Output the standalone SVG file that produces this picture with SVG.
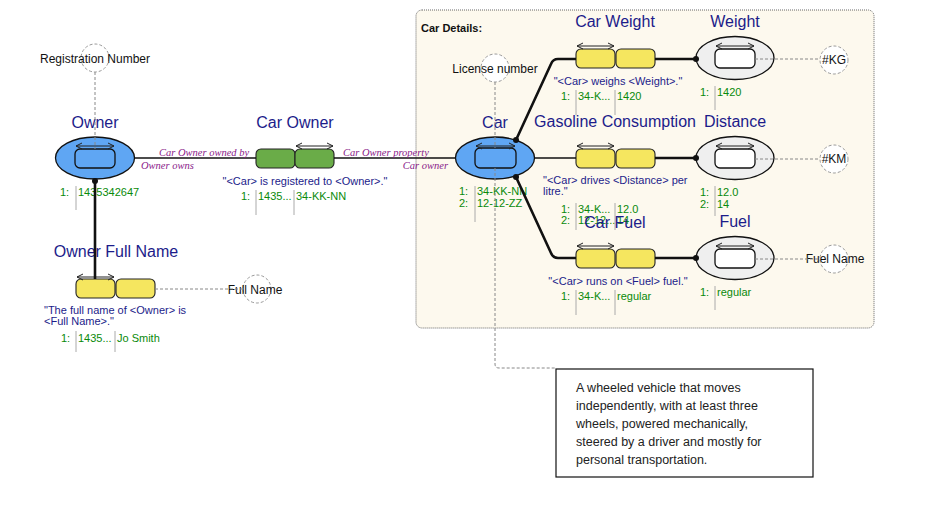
<svg xmlns="http://www.w3.org/2000/svg" width="925" height="509" viewBox="0 0 925 509">
<style>
text{font-family:"Liberation Sans",Arial,sans-serif}
.title{font-size:16px;fill:#1c1c8a;text-anchor:middle}
.lbl{font-size:12px;fill:#111}
.mid{text-anchor:middle}
.sent{font-size:11px;fill:#1c1c8a}
.val{font-size:11px;fill:#0a8a0a}
.role{font-size:10.5px;fill:#8a1a8a;font-style:italic;font-family:"Liberation Serif",serif}
.ent{fill:#5fa6f3;stroke:#111;stroke-width:1.3}
.inner{fill:#5fa6f3;stroke:#111;stroke-width:1.3}
.val-ent{fill:#efefef;stroke:#111;stroke-width:1.3}
.val-inner{fill:#fff;stroke:#111;stroke-width:1.3}
.yel{fill:#f5e65f;stroke:#222;stroke-width:1.1}
.grn{fill:#6aac48;stroke:#222;stroke-width:1.1}
.ref{fill:#fff;stroke:#999;stroke-dasharray:3,2;stroke-width:1}
.dash{stroke:#888;stroke-dasharray:3,2;stroke-width:1;fill:none}
.thin{stroke:#111;stroke-width:1.4;fill:none}
.thick{stroke:#111;stroke-width:2.6;fill:none}
.span{stroke:#222;stroke-width:1.2;marker-start:url(#ar);marker-end:url(#ar)}
.vl{stroke:#aaa;stroke-width:1}
.note{font-size:12.5px;fill:#222}
</style>
<defs>
<marker id="ar" viewBox="0 0 8 8" refX="7" refY="4" markerWidth="8" markerHeight="8" markerUnits="userSpaceOnUse" orient="auto-start-reverse">
<path d="M1,1 L7,4 L1,7" fill="none" stroke="#222" stroke-width="1"/>
</marker>
</defs>
<rect width="925" height="509" fill="#fff"/>

<g id="frame-car-details">
<rect x="416" y="10" width="458" height="318" rx="6" fill="#fdf9ee" stroke="#666" stroke-dasharray="1,1"/>
<text x="421" y="32" style="font-size:11px;font-weight:bold;fill:#111">Car Details:</text>
</g>

<g id="note">
<rect x="556" y="369" width="257" height="108" fill="#fff" stroke="#111" stroke-width="1.2"/>
<text class="note" x="576" y="392">A wheeled vehicle that moves</text>
<text class="note" x="576" y="410">independently, with at least three</text>
<text class="note" x="576" y="428">wheels, powered mechanically,</text>
<text class="note" x="576" y="446">steered by a driver and mostly for</text>
<text class="note" x="576" y="464">personal transportation.</text>
</g>

<g id="owner">
<text class="title" x="95" y="128">Owner</text>
<ellipse class="ent" cx="95" cy="158" rx="39.5" ry="21"/>
<rect class="inner" x="75" y="149" width="40" height="19" rx="5"/>
<line class="span" x1="76" y1="146" x2="114" y2="146"/>
<text class="val" x="60" y="196">1:</text>
<line class="vl" x1="76" y1="186" x2="76" y2="210"/>
<text class="val" x="78" y="196">1435342647</text>
</g>

<g id="registration-number">
<circle class="ref" cx="95" cy="58" r="14"/>
<text class="lbl mid" x="95" y="63">Registration Number</text>
</g>

<g id="car-owner">
<text class="title" x="295" y="128">Car Owner</text>
<rect class="grn" x="256" y="149" width="39" height="19" rx="5"/>
<rect class="grn" x="295" y="149" width="39" height="19" rx="5"/>
<line class="span" x1="296" y1="146" x2="333" y2="146"/>
<text class="sent mid" x="305" y="185">"&lt;Car&gt; is registered to &lt;Owner&gt;."</text>
<text class="val" x="241" y="200">1:</text>
<line class="vl" x1="256" y1="190" x2="256" y2="215"/>
<text class="val" x="258" y="200">1435...</text>
<line class="vl" x1="294" y1="190" x2="294" y2="215"/>
<text class="val" x="296" y="200">34-KK-NN</text>
</g>

<g id="owner-full-name">
<text class="title" x="116" y="257">Owner Full Name</text>
<rect class="yel" x="76" y="279" width="39" height="19" rx="5"/>
<rect class="yel" x="116" y="279" width="39" height="19" rx="5"/>
<line class="span" x1="77" y1="277" x2="114" y2="277"/>
<text class="sent" x="44" y="314">"The full name of &lt;Owner&gt; is</text>
<text class="sent" x="44" y="325">&lt;Full Name&gt;."</text>
<text class="val" x="61" y="342">1:</text>
<line class="vl" x1="76" y1="331" x2="76" y2="352"/>
<text class="val" x="78" y="342">1435...</text>
<line class="vl" x1="115" y1="331" x2="115" y2="352"/>
<text class="val" x="117" y="342">Jo Smith</text>
</g>

<g id="full-name">
<circle class="ref" cx="257" cy="289" r="14"/>
<text class="lbl mid" x="255" y="294">Full Name</text>
</g>

<g id="car">
<text class="title" x="495" y="128">Car</text>
<ellipse class="ent" cx="495" cy="158" rx="39.5" ry="21"/>
<rect class="inner" x="475" y="148" width="41" height="20" rx="5"/>
<line class="span" x1="476" y1="146" x2="515" y2="146"/>
<text class="val" x="459" y="195">1:</text>
<text class="val" x="459" y="207">2:</text>
<line class="vl" x1="475" y1="186" x2="475" y2="222"/>
<text class="val" x="477" y="195">34-KK-NN</text>
<text class="val" x="477" y="207">12-12-ZZ</text>
</g>

<g id="license-number">
<circle class="ref" cx="495" cy="68" r="14"/>
<text class="lbl mid" x="495" y="73">License number</text>
</g>

<g id="car-weight">
<text class="title" x="615" y="27">Car Weight</text>
<rect class="yel" x="576" y="49" width="39" height="19" rx="5"/>
<rect class="yel" x="616" y="49" width="39" height="19" rx="5"/>
<line class="span" x1="577" y1="46" x2="614" y2="46"/>
<text class="sent mid" x="618" y="85">"&lt;Car&gt; weighs &lt;Weight&gt;."</text>
<text class="val" x="561" y="100">1:</text>
<line class="vl" x1="576" y1="90" x2="576" y2="115"/>
<text class="val" x="578" y="100">34-K...</text>
<line class="vl" x1="615" y1="90" x2="615" y2="115"/>
<text class="val" x="617" y="100">1420</text>
</g>

<g id="weight">
<text class="title" x="735" y="27">Weight</text>
<ellipse class="val-ent" cx="735" cy="58" rx="39" ry="21.5"/>
<rect class="val-inner" x="715" y="49" width="40" height="19" rx="5"/>
<line class="span" x1="716" y1="46" x2="754" y2="46"/>
<text class="val" x="700" y="96">1:</text>
<line class="vl" x1="715" y1="86" x2="715" y2="110"/>
<text class="val" x="717" y="96">1420</text>
</g>

<g id="kg">
<circle class="ref" cx="834" cy="60" r="14"/>
<text class="lbl mid" x="834" y="64">#KG</text>
</g>

<g id="gasoline-consumption">
<text class="title" x="615" y="127">Gasoline Consumption</text>
<rect class="yel" x="576" y="149" width="39" height="19" rx="5"/>
<rect class="yel" x="616" y="149" width="39" height="19" rx="5"/>
<line class="span" x1="577" y1="146" x2="614" y2="146"/>
<text class="sent" x="543" y="184">"&lt;Car&gt; drives &lt;Distance&gt; per</text>
<text class="sent" x="543" y="195">litre."</text>
<text class="val" x="561" y="213">1:</text>
<text class="val" x="561" y="224">2:</text>
<line class="vl" x1="576" y1="203" x2="576" y2="230"/>
<text class="val" x="578" y="213">34-K...</text>
<text class="val" x="578" y="224">12-12...</text>
<line class="vl" x1="615" y1="203" x2="615" y2="230"/>
<text class="val" x="617" y="213">12.0</text>
<text class="val" x="617" y="224">14</text>
</g>

<g id="distance">
<text class="title" x="735" y="127">Distance</text>
<ellipse class="val-ent" cx="735" cy="158" rx="39" ry="21.5"/>
<rect class="val-inner" x="715" y="149" width="40" height="19" rx="5"/>
<line class="span" x1="716" y1="146" x2="754" y2="146"/>
<text class="val" x="700" y="196">1:</text>
<text class="val" x="700" y="208">2:</text>
<line class="vl" x1="715" y1="186" x2="715" y2="216"/>
<text class="val" x="717" y="196">12.0</text>
<text class="val" x="717" y="208">14</text>
</g>

<g id="km">
<circle class="ref" cx="834" cy="159" r="14"/>
<text class="lbl mid" x="834" y="163">#KM</text>
</g>

<g id="car-fuel">
<text class="title" x="615" y="228">Car Fuel</text>
<rect class="yel" x="576" y="249" width="39" height="19" rx="5"/>
<rect class="yel" x="616" y="249" width="39" height="19" rx="5"/>
<line class="span" x1="577" y1="246" x2="614" y2="246"/>
<text class="sent mid" x="618" y="285">"&lt;Car&gt; runs on &lt;Fuel&gt; fuel."</text>
<text class="val" x="561" y="300">1:</text>
<line class="vl" x1="576" y1="290" x2="576" y2="315"/>
<text class="val" x="578" y="300">34-K...</text>
<line class="vl" x1="615" y1="290" x2="615" y2="315"/>
<text class="val" x="617" y="300">regular</text>
</g>

<g id="fuel">
<text class="title" x="735" y="227">Fuel</text>
<ellipse class="val-ent" cx="735" cy="258" rx="39" ry="21.5"/>
<rect class="val-inner" x="715" y="249" width="40" height="19" rx="5"/>
<line class="span" x1="716" y1="246" x2="754" y2="246"/>
<text class="val" x="700" y="296">1:</text>
<line class="vl" x1="715" y1="286" x2="715" y2="310"/>
<text class="val" x="717" y="296">regular</text>
</g>

<g id="fuel-name">
<circle class="ref" cx="834" cy="259" r="14"/>
<text class="lbl mid" x="835" y="263">Fuel Name</text>
</g>

<g id="connectors">
<line class="dash" x1="95" y1="72" x2="95" y2="149"/>
<line class="dash" x1="155" y1="289" x2="243" y2="289"/>
<line class="dash" x1="495" y1="82" x2="495" y2="148"/>
<path class="dash" d="M495,168 L495,364 Q495,368 499,368 L556,368"/>
<line class="dash" x1="755" y1="59" x2="820" y2="59"/>
<line class="dash" x1="755" y1="159" x2="820" y2="159"/>
<line class="dash" x1="755" y1="259" x2="820" y2="259"/>

<line class="thin" x1="134" y1="158" x2="256" y2="158"/>
<line class="thin" x1="334" y1="158" x2="455" y2="158"/>
<text class="role" x="159" y="156">Car Owner owned by</text>
<text class="role" x="141" y="169">Owner owns</text>
<text class="role" x="343" y="156">Car Owner property</text>
<text class="role" x="448" y="169" text-anchor="end">Car owner</text>

<line class="thick" x1="95" y1="180" x2="95" y2="279"/>
<circle cx="95" cy="181" r="3" fill="#111"/>

<path class="thick" d="M516,140 L551,64 Q553,59 558,59 L576,59"/>
<circle cx="516" cy="140" r="3" fill="#111"/>
<line class="thin" x1="534" y1="158" x2="576" y2="158"/>
<path class="thick" d="M516,177 L551,253 Q553,258 558,258 L576,258"/>
<circle cx="516" cy="177" r="3" fill="#111"/>

<line class="thick" x1="655" y1="59" x2="696" y2="59"/>
<circle cx="696" cy="59" r="3" fill="#111"/>
<line class="thick" x1="655" y1="158" x2="696" y2="158"/>
<circle cx="696" cy="158" r="3" fill="#111"/>
<line class="thick" x1="655" y1="258" x2="696" y2="258"/>
<circle cx="696" cy="258" r="3" fill="#111"/>
</g>
</svg>
